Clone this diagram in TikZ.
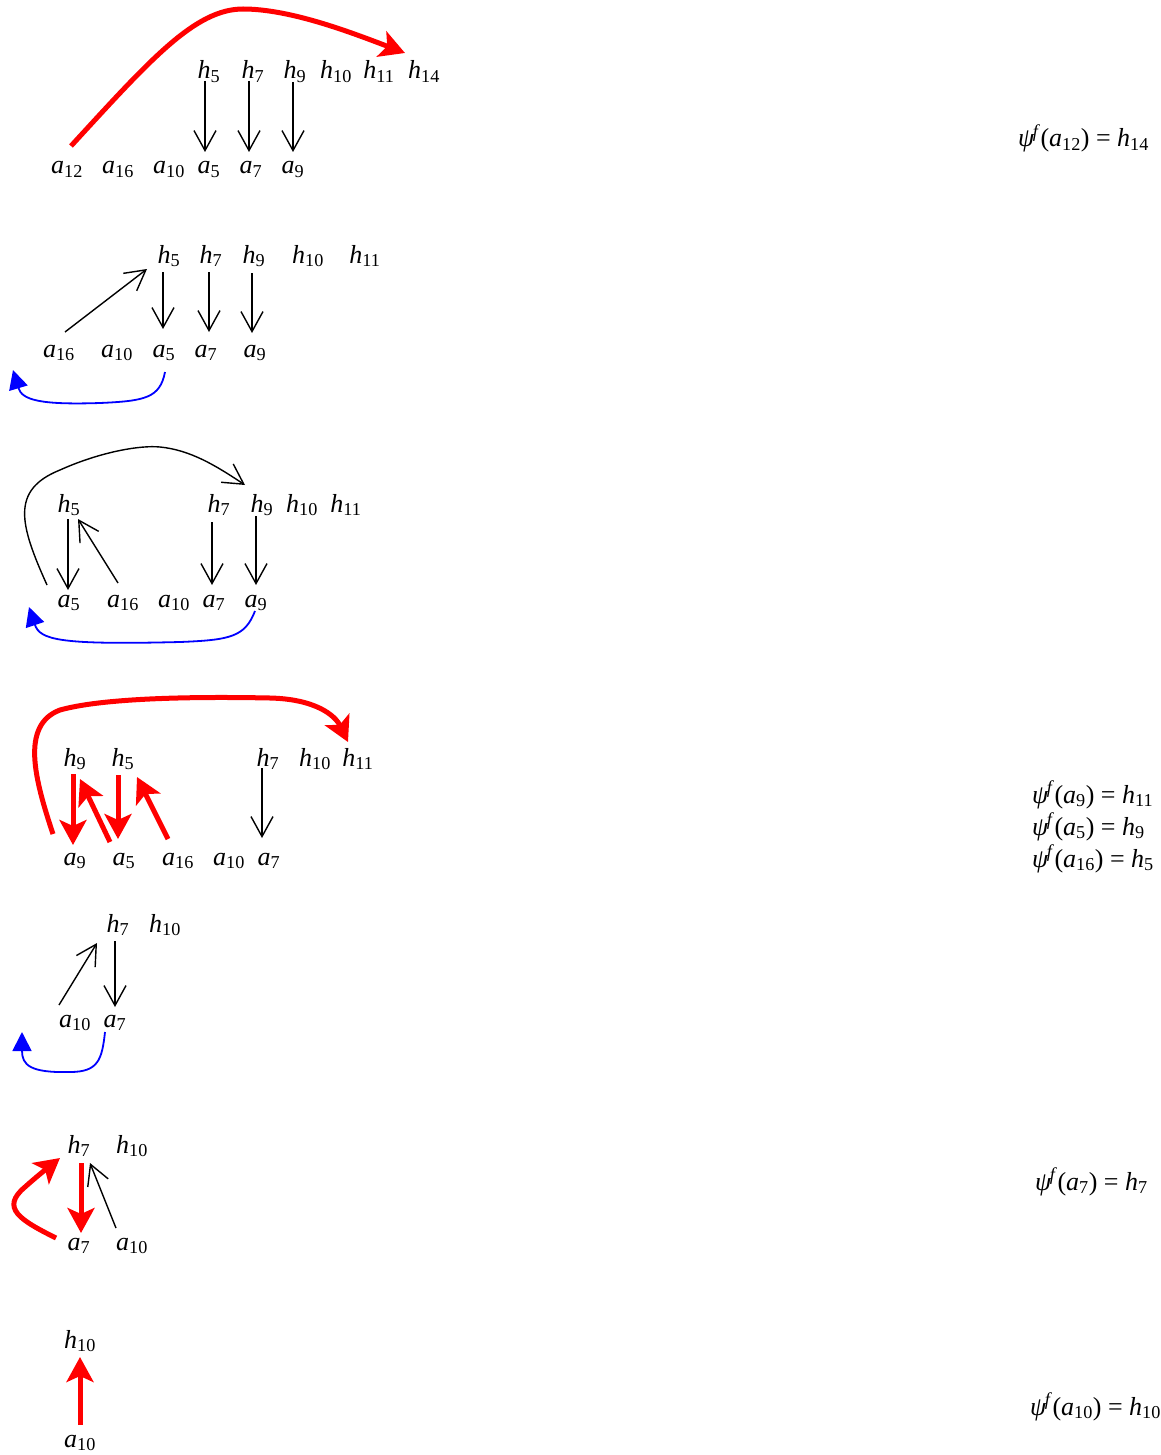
\documentclass[tikz,border=0pt]{standalone}
\usepackage{fontspec}
\setmainfont{Liberation Serif}
\usetikzlibrary{arrows.meta}
\newcommand\myl[2]{\textit{#1}\textsubscript{#2}}
\newcommand\mypsi{\textit{ψ}\textsuperscript{\kern-0.1em\textit{f}}}
\tikzset{
  lab/.style={anchor=base, inner sep=0pt, font=\fontsize{26}{30}\selectfont},
  eqn/.style={anchor=base west, inner sep=0pt, font=\fontsize{26}{30}\selectfont},
  blk/.style={line width=1.4pt, -{Straight Barb[length=20pt,width=22pt]}},
  redc/.style={red, line width=5pt, -{Stealth[length=25pt,width=27pt,inset=6pt]}},
  blu/.style={blue, line width=1.8pt, -{Triangle[length=19pt,width=19pt]}},
}
\begin{document}
\begin{tikzpicture}[x=1pt,y=-1pt]
\useasboundingbox (0,0) rectangle (1160,1455);
% ---------- row 1
\node[lab] (r1h5) at (209,79) {\myl{h}{5}};
\node[lab] (r1h7) at (253,79) {\myl{h}{7}};
\node[lab] (r1h9) at (295,79) {\myl{h}{9}};
\node[lab] (r1h10) at (336,79) {\myl{h}{10}};
\node[lab] (r1h11) at (379,79) {\myl{h}{11}};
\node[lab] (r1h14) at (424,79) {\myl{h}{14}};
\node[lab] (r1a12) at (67,174) {\myl{a}{12}};
\node[lab] (r1a16) at (118,174) {\myl{a}{16}};
\node[lab] (r1a10) at (169,174) {\myl{a}{10}};
\node[lab] (r1a5) at (209,174) {\myl{a}{5}};
\node[lab] (r1a7) at (251,174) {\myl{a}{7}};
\node[lab] (r1a9) at (293,174) {\myl{a}{9}};
\draw[blk] ([shift={(-4,2)}]r1h5.base) -- ([shift={(-4,-22)}]r1a5.base);
\draw[blk] ([shift={(-4,2)}]r1h7.base) -- ([shift={(-2,-22)}]r1a7.base);
\draw[blk] ([shift={(-2,3)}]r1h9.base) -- ([shift={(0,-22)}]r1a9.base);
\coordinate (r1p) at (243,9);
\draw[redc] ([shift={(4,-28)}]r1a12.base) .. controls (150,60) and (195,9) .. (r1p)
  .. controls (290,9) and (350,32) .. ([shift={(-19,-26)}]r1h14.base);
\node[eqn] (e1) at (1018,147) {\mypsi(\myl{a}{12}) = \myl{h}{14}};
% ---------- row 2
\node[lab] (r2h5) at (169,263) {\myl{h}{5}};
\node[lab] (r2h7) at (211,263) {\myl{h}{7}};
\node[lab] (r2h9) at (254,263) {\myl{h}{9}};
\node[lab] (r2h10) at (308,263) {\myl{h}{10}};
\node[lab] (r2h11) at (365,263) {\myl{h}{11}};
\node[lab] (r2a16) at (59,357) {\myl{a}{16}};
\node[lab] (r2a10) at (117,357) {\myl{a}{10}};
\node[lab] (r2a5) at (164,357) {\myl{a}{5}};
\node[lab] (r2a7) at (206,357) {\myl{a}{7}};
\node[lab] (r2a9) at (255,357) {\myl{a}{9}};
\draw[blk] ([shift={(6,-25)}]r2a16.base) -- ([shift={(-22,6)}]r2h5.base);
\draw[blk] ([shift={(-6,9)}]r2h5.base) -- ([shift={(-1,-28)}]r2a5.base);
\draw[blk] ([shift={(-2,9)}]r2h7.base) -- ([shift={(3,-25)}]r2a7.base);
\draw[blk] ([shift={(-2,10)}]r2h9.base) -- ([shift={(-3,-24)}]r2a9.base);
\coordinate (r2b) at (13,370);
\draw[blu] ([shift={(1,15)}]r2a5.base) .. controls (160,398) and (145,401) .. (100,403)
  .. controls (40,405) and (22,400) .. (r2b);
% ---------- row 3
\node[lab] (r3h5) at (69,512) {\myl{h}{5}};
\node[lab] (r3h7) at (219,512) {\myl{h}{7}};
\node[lab] (r3h9) at (262,512) {\myl{h}{9}};
\node[lab] (r3h10) at (302,512) {\myl{h}{10}};
\node[lab] (r3h11) at (346,512) {\myl{h}{11}};
\node[lab] (r3a5) at (69,607) {\myl{a}{5}};
\node[lab] (r3a16) at (123,607) {\myl{a}{16}};
\node[lab] (r3a10) at (174,607) {\myl{a}{10}};
\node[lab] (r3a7) at (214,607) {\myl{a}{7}};
\node[lab] (r3a9) at (256,607) {\myl{a}{9}};
\draw[blk] ([shift={(-1,7)}]r3h5.base) -- ([shift={(-1,-17)}]r3a5.base);
\draw[blk] ([shift={(-5,-24)}]r3a16.base) -- ([shift={(9,7)}]r3h5.base);
\draw[blk] ([shift={(-7,10)}]r3h7.base) -- ([shift={(-2,-22)}]r3a7.base);
\draw[blk] ([shift={(-6,4)}]r3h9.base) -- ([shift={(0,-22)}]r3a9.base);
\draw[blk] ([shift={(-22,-22)}]r3a5.base) .. controls (20,525) and (10,490) .. (60,470)
  .. controls (100,452) and (140,445) .. (160,447)
  .. controls (190,450) and (215,465) .. ([shift={(-17,-27)}]r3h9.base);
\coordinate (r3b) at (29,607);
\draw[blu] ([shift={(-1,4)}]r3a9.base) .. controls (245,637) and (230,640) .. (180,642)
  .. controls (60,645) and (40,640) .. (r3b);
% ---------- row 4
\node[lab] (r4h9) at (75,766) {\myl{h}{9}};
\node[lab] (r4h5) at (123,766) {\myl{h}{5}};
\node[lab] (r4h7) at (268,766) {\myl{h}{7}};
\node[lab] (r4h10) at (315,766) {\myl{h}{10}};
\node[lab] (r4h11) at (358,766) {\myl{h}{11}};
\node[lab] (r4a9) at (75,865) {\myl{a}{9}};
\node[lab] (r4a5) at (124,865) {\myl{a}{5}};
\node[lab] (r4a16) at (178,865) {\myl{a}{16}};
\node[lab] (r4a10) at (229,865) {\myl{a}{10}};
\node[lab] (r4a7) at (269,865) {\myl{a}{7}};
\draw[redc] ([shift={(-2,8)}]r4h9.base) -- ([shift={(-2,-20)}]r4a9.base);
\draw[redc] ([shift={(-14,-23)}]r4a5.base) -- ([shift={(5,13)}]r4h9.base);
\draw[redc] ([shift={(-5,9)}]r4h5.base) -- ([shift={(-6,-26)}]r4a5.base);
\draw[redc] ([shift={(-10,-26)}]r4a16.base) -- ([shift={(14,11)}]r4h5.base);
\draw[blk] ([shift={(-6,2)}]r4h7.base) -- ([shift={(-7,-27)}]r4a7.base);
\draw[redc] ([shift={(-22,-31)}]r4a9.base) .. controls (35,780) and (20,725) .. (60,710)
  .. controls (110,696) and (220,697) .. (270,698)
  .. controls (315,699) and (335,715) .. ([shift={(-10,-24)}]r4h11.base);
\node[eqn] (e4a) at (1032,803) {\mypsi(\myl{a}{9}) = \myl{h}{11}};
\node[eqn] (e4b) at (1032,835) {\mypsi(\myl{a}{5}) = \myl{h}{9}};
\node[eqn] (e4c) at (1032,867) {\mypsi(\myl{a}{16}) = \myl{h}{5}};
% ---------- row 5
\node[lab] (r5h7) at (118,932) {\myl{h}{7}};
\node[lab] (r5h10) at (165,932) {\myl{h}{10}};
\node[lab] (r5a10) at (75,1027) {\myl{a}{10}};
\node[lab] (r5a7) at (115,1027) {\myl{a}{7}};
\draw[blk] ([shift={(-16,-22)}]r5a10.base) -- ([shift={(-21,11)}]r5h7.base);
\draw[blk] ([shift={(-3,9)}]r5h7.base) -- ([shift={(0,-20)}]r5a7.base);
\coordinate (r5b) at (22,1032);
\draw[blu] ([shift={(-10,5)}]r5a7.base) .. controls (102,1060) and (98,1072) .. (70,1072)
  .. controls (30,1073) and (22,1065) .. (r5b);
% ---------- row 6
\node[lab] (r6h7) at (79,1153) {\myl{h}{7}};
\node[lab] (r6h10) at (132,1153) {\myl{h}{10}};
\node[lab] (r6a7) at (79,1250) {\myl{a}{7}};
\node[lab] (r6a10) at (132,1250) {\myl{a}{10}};
\draw[redc] ([shift={(2,10)}]r6h7.base) -- ([shift={(2,-17)}]r6a7.base);
\draw[blk] ([shift={(-16,-22)}]r6a10.base) -- ([shift={(11,10)}]r6h7.base);
\draw[redc] ([shift={(-23,-12)}]r6a7.base) .. controls (20,1220) and (0,1208) .. (25,1187)
  .. controls (35,1178) and (45,1170) .. ([shift={(-19,5)}]r6h7.base);
\node[eqn] (e6) at (1035,1190) {\mypsi(\myl{a}{7}) = \myl{h}{7}};
% ---------- row 7
\node[lab] (r7h10) at (80,1348) {\myl{h}{10}};
\node[lab] (r7a10) at (80,1447) {\myl{a}{10}};
\draw[redc] ([shift={(0,-22)}]r7a10.base) -- ([shift={(0,9)}]r7h10.base);
\node[eqn] (e7) at (1030,1415) {\mypsi(\myl{a}{10}) = \myl{h}{10}};
\end{tikzpicture}
\end{document}
